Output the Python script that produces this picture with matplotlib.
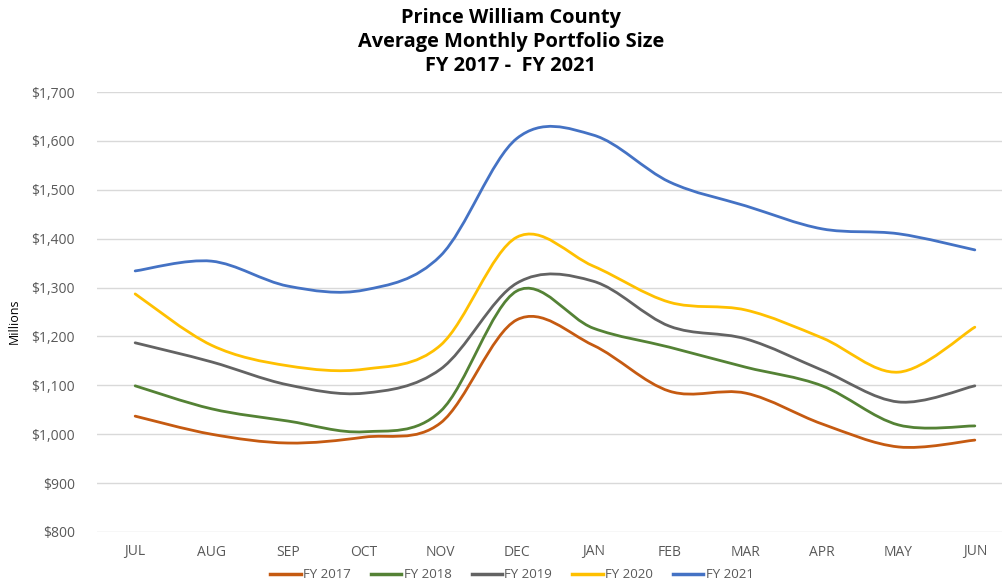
import matplotlib
matplotlib.use("Agg")
import matplotlib.pyplot as plt
from matplotlib.path import Path
from matplotlib.patches import PathPatch
from matplotlib.lines import Line2D
from matplotlib.ticker import FuncFormatter

# Dados (milhões de dólares)
meses = ["JUL", "AUG", "SEP", "OCT", "NOV", "DEC", "JAN", "FEB", "MAR", "APR", "MAY", "JUN"]
fy2017 = [1037, 1000, 982, 994, 1023, 1234, 1182, 1088, 1084, 1021, 974, 988]
fy2018 = [1099, 1052, 1027, 1005, 1047, 1293, 1217, 1178, 1137, 1099, 1019, 1017]
fy2019 = [1187, 1148, 1101, 1084, 1133, 1309, 1313, 1221, 1195, 1131, 1066, 1099]
fy2020 = [1287, 1182, 1140, 1133, 1182, 1403, 1344, 1270, 1254, 1197, 1127, 1219]
fy2021 = [1334, 1354, 1303, 1295, 1365, 1605, 1612, 1516, 1467, 1420, 1410, 1377]

series = [
    ("FY 2017", fy2017, "#C55A11"),
    ("FY 2018", fy2018, "#548235"),
    ("FY 2019", fy2019, "#636363"),
    ("FY 2020", fy2020, "#FFC000"),
    ("FY 2021", fy2021, "#4472C4"),
]


def curva_suave(xs, ys):
    # linha suavizada estilo Excel (Bezier Catmull-Rom)
    n = len(xs)
    verts = [(xs[0], ys[0])]
    codes = [Path.MOVETO]
    for i in range(n - 1):
        x0, y0 = (xs[i - 1], ys[i - 1]) if i > 0 else (xs[i], ys[i])
        x1, y1 = xs[i], ys[i]
        x2, y2 = xs[i + 1], ys[i + 1]
        x3, y3 = (xs[i + 2], ys[i + 2]) if i + 2 < n else (x2, y2)
        c1 = (x1 + (x2 - x0) / 6, y1 + (y2 - y0) / 6)
        c2 = (x2 - (x3 - x1) / 6, y2 - (y3 - y1) / 6)
        verts += [c1, c2, (x2, y2)]
        codes += [Path.CURVE4] * 3
    return Path(verts, codes)


plt.rcParams['font.family'] = ['Open Sans', 'DejaVu Sans']

fig = plt.figure(figsize=(10.03, 5.84), dpi=100)
ax = fig.add_axes([97 / 1003, 1 - 532 / 584, (1013 - 97) / 1003, (532 - 92) / 584])

x = list(range(len(meses)))
for nome, vals, cor in series:
    patch = PathPatch(curva_suave(x, vals), facecolor="none", edgecolor=cor,
                      lw=2.0, capstyle="round", joinstyle="round", zorder=3)
    ax.add_patch(patch)

ax.set_xlim(-0.5, len(meses) - 0.5)
ax.set_ylim(800, 1700)
ax.set_yticks(range(800, 1701, 100))
ax.yaxis.set_major_formatter(FuncFormatter(lambda v, p: f"${v:,.0f}"))
ax.set_xticks(x)
ax.set_xticklabels(meses)

for s in ax.spines.values():
    s.set_visible(False)
ax.grid(axis="y", color="#D9D9D9", lw=1.0)
ax.set_axisbelow(True)
ax.tick_params(axis="both", length=0, colors="#595959", labelsize=10)
ax.tick_params(axis="x", pad=9)
ax.tick_params(axis="y", pad=16)

ax.set_ylabel("Millions", fontsize=9, color="black")
ax.yaxis.set_label_coords(-0.083, 0.48)

for yy, txt in [(18, "Prince William County"), (42, "Average Monthly Portfolio Size"),
                (66, "FY 2017 -  FY 2021")]:
    fig.text(511 / 1003, 1 - yy / 584, txt, ha="center", va="center",
             fontsize=14.4, fontweight="bold")

handles = [Line2D([0], [0], color=c, lw=2.5) for _, _, c in series]
fig.legend(handles, [n for n, _, _ in series], loc="center", bbox_to_anchor=(512 / 1003, 1 - 575 / 584),
           ncol=5, frameon=False, fontsize=9.5, handlelength=2.3, handletextpad=0.2,
           columnspacing=1.5, labelcolor="#595959")

fig.savefig("out.png", dpi=100)
